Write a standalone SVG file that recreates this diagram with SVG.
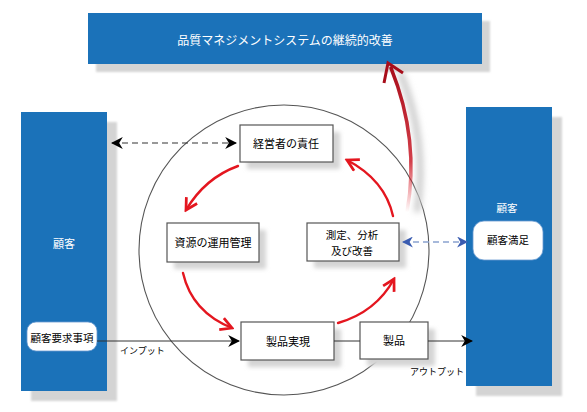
<svg xmlns="http://www.w3.org/2000/svg" width="587" height="412" viewBox="0 0 587 412">
<defs>
<style>
.blue{fill:#1b72b9}
.sh{fill:#d4d4d4}
.box{fill:#fff;stroke:#555;stroke-width:1.2}
.t{font-family:"Noto Sans CJK JP","Noto Sans",sans-serif;font-size:11px;fill:#000;text-anchor:middle;dominant-baseline:central}
.w{fill:#fff}
.lbl{font-family:"Noto Sans CJK JP","Noto Sans",sans-serif;font-size:9px;fill:#000}
.red{fill:none;stroke:#e4161f;stroke-width:2.4;stroke-linecap:round}
</style>
<filter id="blur" x="-20%" y="-20%" width="140%" height="140%"><feGaussianBlur stdDeviation="2"/></filter>
<filter id="blur1" x="-20%" y="-20%" width="140%" height="140%"><feGaussianBlur stdDeviation="1"/></filter>
<filter id="blur3" x="-50%" y="-20%" width="200%" height="140%"><feGaussianBlur stdDeviation="3"/></filter>
<marker id="ab" viewBox="0 0 10 10" refX="9" refY="5" markerWidth="12" markerHeight="12" markerUnits="userSpaceOnUse" orient="auto-start-reverse"><path d="M0,0 L10,5 L0,10 L3,5 z" fill="#000"/></marker>
<marker id="abl" viewBox="0 0 10 10" refX="9" refY="5" markerWidth="11" markerHeight="11" markerUnits="userSpaceOnUse" orient="auto-start-reverse"><path d="M0,0 L10,5 L0,10 L3,5 z" fill="#3a5cb0"/></marker>
<marker id="ar" viewBox="0 0 12 12" refX="10" refY="6" markerWidth="15" markerHeight="15" markerUnits="userSpaceOnUse" orient="auto"><path d="M1,1 L10,6 L1,11" fill="none" stroke="#e4161f" stroke-width="2.2" stroke-linejoin="miter"/></marker>
<linearGradient id="bigg" x1="0" y1="1" x2="0" y2="0">
<stop offset="0" stop-color="#e4161f" stop-opacity="0"/>
<stop offset="0.35" stop-color="#c8101e" stop-opacity="0.8"/>
<stop offset="1" stop-color="#a80d1a" stop-opacity="1"/>
</linearGradient>
</defs>
<rect width="587" height="412" fill="#fff"/>

<g id="banner">
<rect x="96" y="21" width="394" height="51" class="sh" filter="url(#blur1)"/>
<rect x="88" y="13" width="394" height="51" class="blue"/>
<text x="285" y="39" class="t w" style="font-size:12px">品質マネジメントシステムの継続的改善</text>
</g>

<g id="circle">
<circle cx="284" cy="250" r="145" fill="none" stroke="#555" stroke-width="1.1"/>
</g>

<g id="customer-left">
<rect x="31" y="122" width="86" height="279" class="sh" filter="url(#blur1)"/>
<rect x="21" y="112" width="86" height="279" class="blue"/>
<text x="64" y="243" class="t w">顧客</text>
</g>
<g id="requirements">
<rect x="27" y="322" width="70" height="29" rx="9" fill="#fff" stroke="#6a9bd0" stroke-width="0.8"/>
<text x="62" y="337" class="t" style="font-size:10.5px">顧客要求事項</text>
</g>

<g id="customer-right">
<rect x="476" y="117" width="86" height="279" class="sh" filter="url(#blur1)"/>
<rect x="466" y="107" width="86" height="279" class="blue"/>
<text x="507" y="207" class="t w" style="font-size:10.5px">顧客</text>
</g>
<g id="satisfaction">
<rect x="473" y="221" width="70" height="39" rx="11" fill="#fff" stroke="#6a9bd0" stroke-width="0.8"/>
<text x="508" y="239" class="t" style="font-size:10.5px">顧客満足</text>
</g>

<g id="management">
<rect x="247" y="132" width="93" height="37" class="sh" filter="url(#blur)"/>
<rect x="240" y="125" width="93" height="37" class="box"/>
<text x="286" y="143" class="t">経営者の責任</text>
</g>
<g id="resource">
<rect x="174" y="230" width="92" height="39" class="sh" filter="url(#blur)"/>
<rect x="167" y="223" width="92" height="39" class="box"/>
<text x="213" y="242" class="t">資源の運用管理</text>
</g>
<g id="measurement">
<rect x="314" y="230" width="92" height="38" class="sh" filter="url(#blur)"/>
<rect x="307" y="223" width="92" height="38" class="box"/>
<text x="352" y="234" class="t" style="font-size:10.5px">測定、分析</text>
<text x="352" y="250" class="t" style="font-size:10.5px">及び改善</text>
</g>
<g id="realization">
<rect x="248" y="329" width="93" height="38" class="sh" filter="url(#blur)"/>
<rect x="241" y="322" width="93" height="38" class="box"/>
<text x="288" y="341" class="t">製品実現</text>
</g>
<g id="product">
<rect x="367" y="329" width="68" height="37" class="sh" filter="url(#blur)"/>
<rect x="360" y="322" width="68" height="37" class="box"/>
<text x="394" y="340" class="t">製品</text>
</g>

<g id="connectors">
<line x1="112" y1="143" x2="236" y2="143" stroke="#333" stroke-width="1.2" stroke-dasharray="6,4" marker-start="url(#ab)" marker-end="url(#ab)"/>
<line x1="403" y1="242" x2="467" y2="242" stroke="#8aa3cf" stroke-width="1.3" stroke-dasharray="6,4" marker-start="url(#abl)" marker-end="url(#abl)"/>
<line x1="97" y1="341" x2="239" y2="341" stroke="#333" stroke-width="1" marker-end="url(#ab)"/>
<line x1="334" y1="341" x2="360" y2="341" stroke="#333" stroke-width="1"/>
<line x1="428" y1="341" x2="472" y2="341" stroke="#333" stroke-width="1" marker-end="url(#ab)"/>
<text x="120" y="354" class="lbl">インプット</text>
<text x="410" y="375" class="lbl">アウトプット</text>
<path d="M238,166 Q205,178 186,210" class="red" marker-end="url(#ar)"/>
<path d="M183,273 Q192,312 232,328" class="red" marker-end="url(#ar)"/>
<path d="M338,323 Q376,312 394,279" class="red" marker-end="url(#ar)"/>
<path d="M393,216 Q385,180 347,160" class="red" marker-end="url(#ar)"/>
<path d="M417,212 Q428,140 400,72" fill="none" stroke="#c8c8c8" stroke-width="6" filter="url(#blur3)"/>
<path d="M407,212 Q420,140 391,68" fill="none" stroke="url(#bigg)" stroke-width="3.5" stroke-linecap="round"/>
<path d="M384,83 L388,63 L403,73" fill="none" stroke="#a80d1a" stroke-width="3" stroke-linejoin="miter"/>
</g>
</svg>
